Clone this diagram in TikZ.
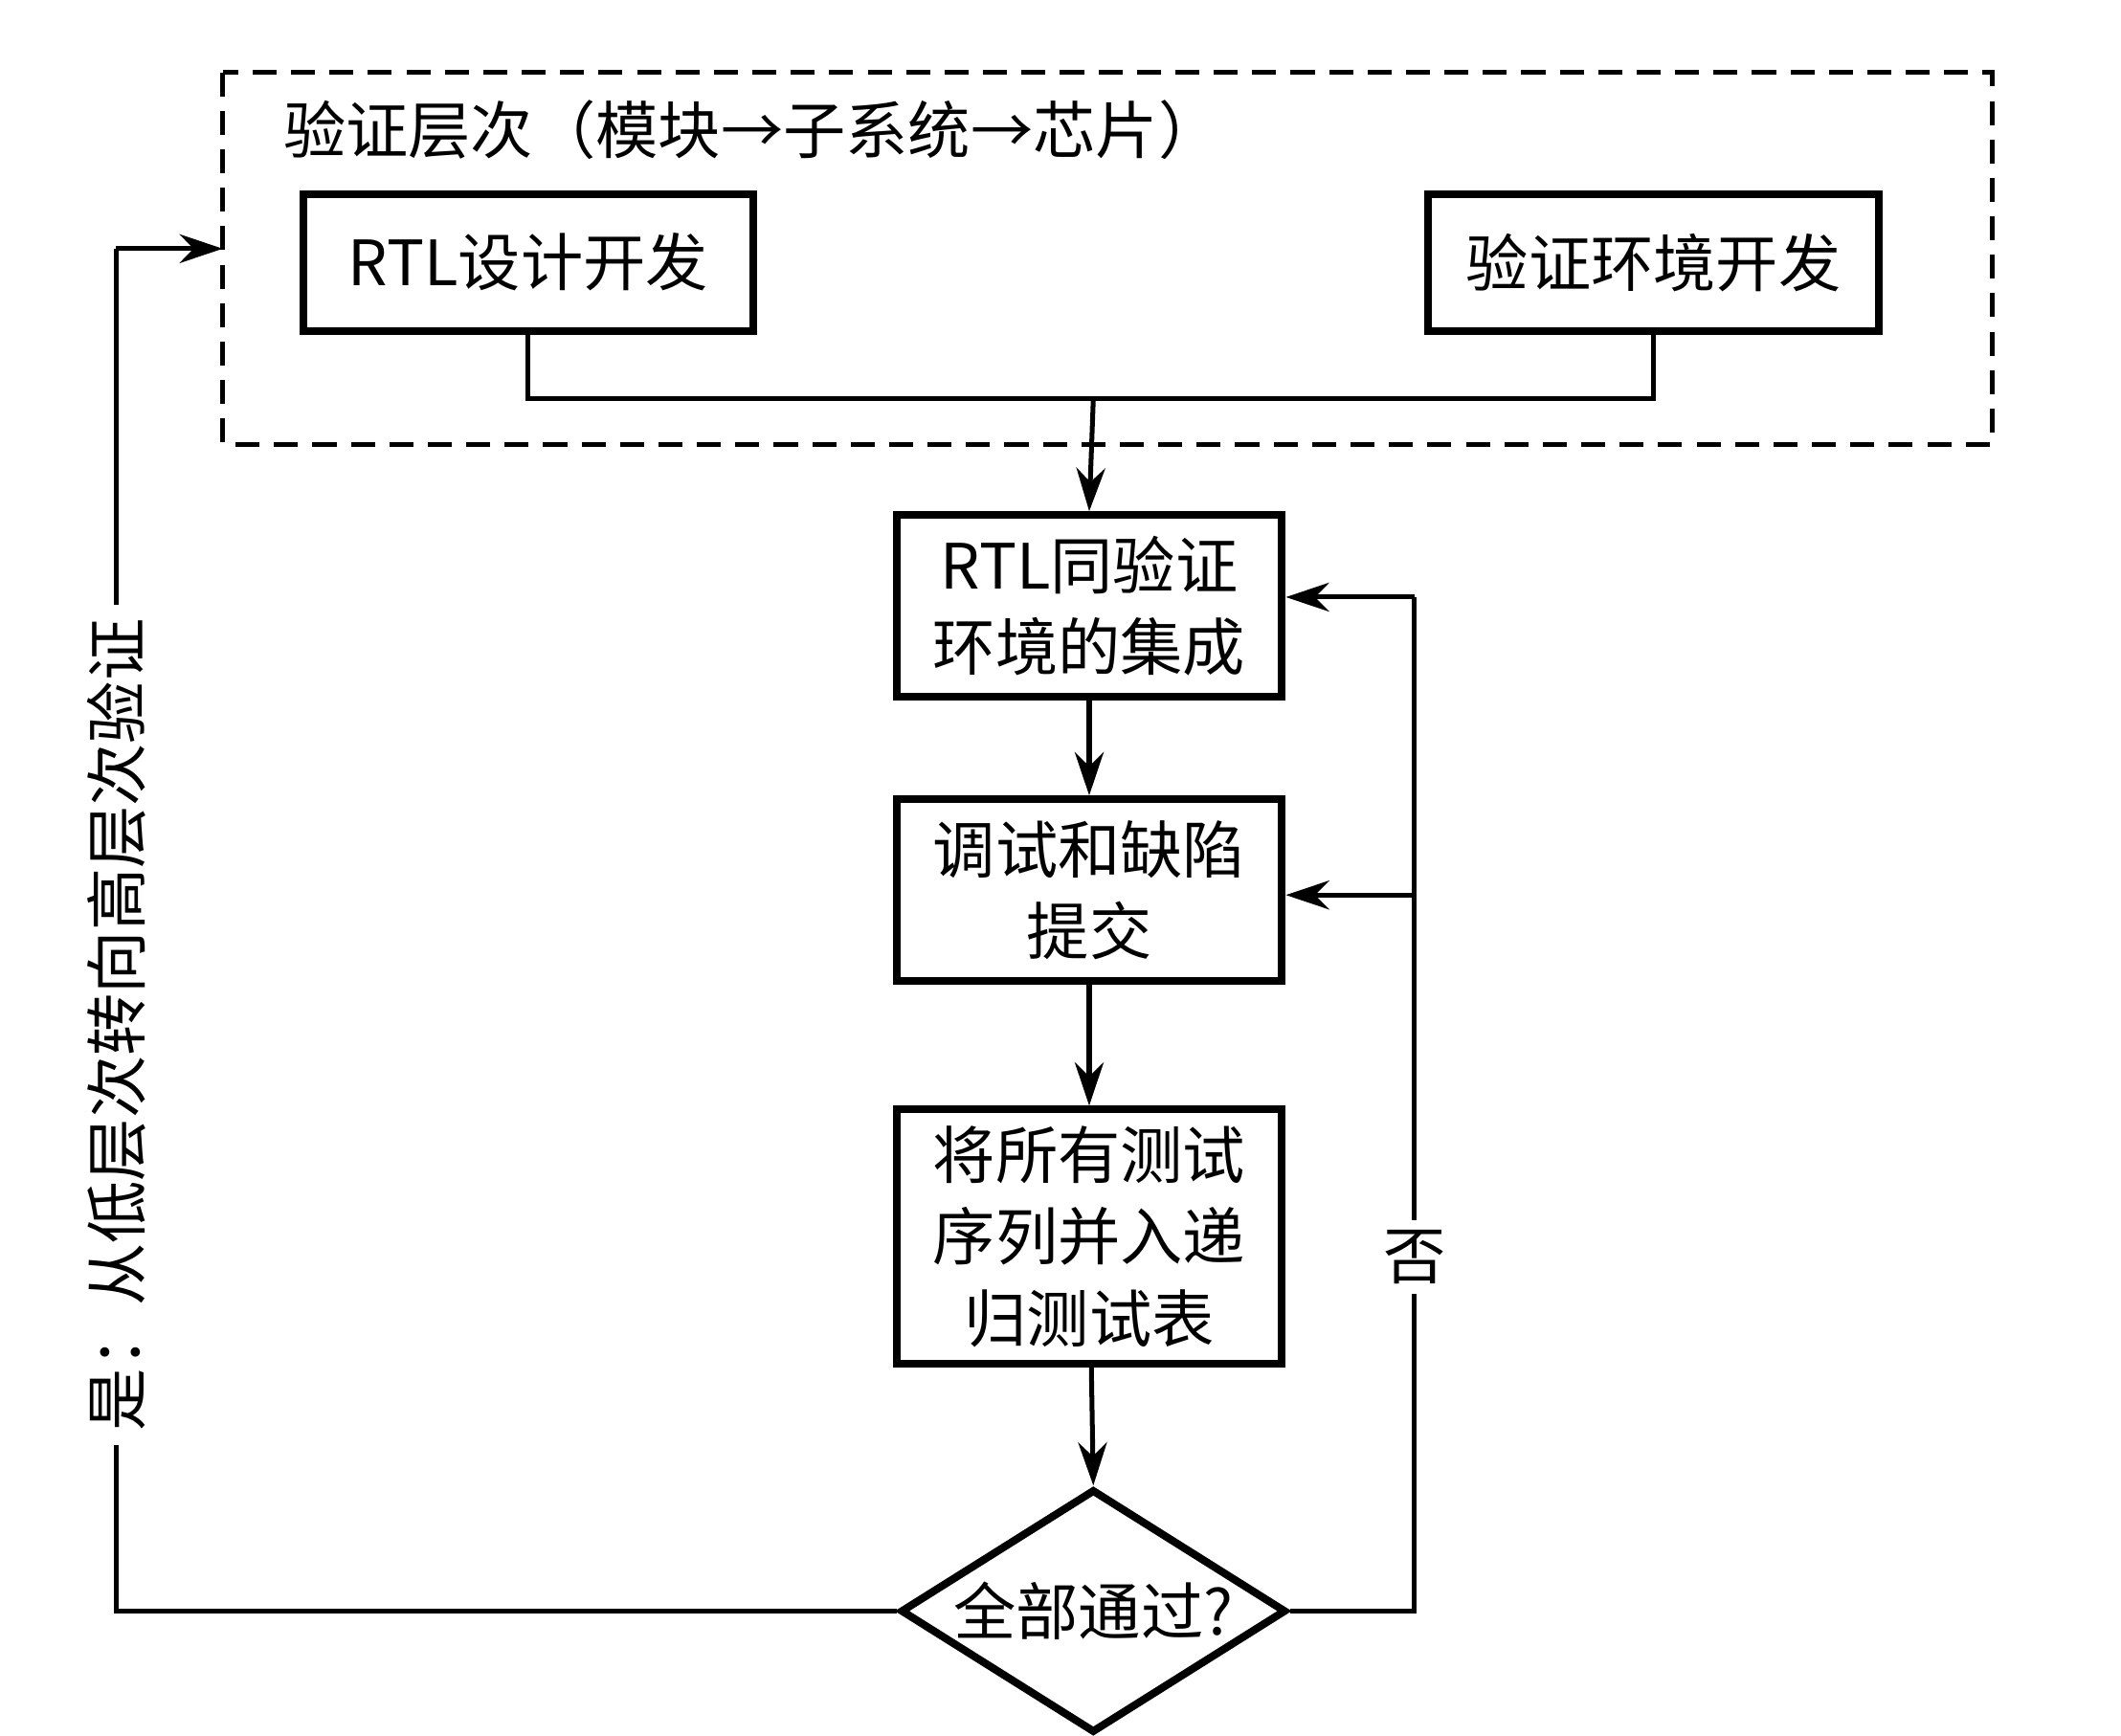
\documentclass[tikz,border=0pt]{standalone}
\usepackage{fontspec}
\newfontfamily\cjk{Noto Sans CJK SC}
\usetikzlibrary{arrows.meta,shapes.geometric}
\begin{document}
\begin{tikzpicture}[x=0.01cm,y=-0.01cm,
  every node/.style={font=\cjk\fontsize{13}{17}\selectfont},
  box/.style={draw,line width=1.6pt,align=center,inner sep=0pt},
  ln/.style={line width=1pt},
  arr/.style={ln,-{Stealth[length=9pt,width=6pt]}}]
\useasboundingbox (0,0) rectangle (1552,1270);
\draw[ln,dash pattern=on 5pt off 3pt] (163,53) rectangle (1458,325);
\node[anchor=west] (title) at (195,95) {验证层次（模块→子系统→芯片）};
\node[box,text width=3.29cm,minimum height=1cm] (rtl) at (386.5,192) {RTL设计开发};
\node[box,text width=3.3cm,minimum height=1cm] (env) at (1210,192) {验证环境开发};
\node[box,text width=2.82cm,minimum height=1.33cm] (int) at (797,443.5) {RTL同验证\\环境的集成};
\node[box,text width=2.82cm,minimum height=1.33cm] (dbg) at (797,651.5) {调试和缺陷\\提交};
\node[box,text width=2.82cm,minimum height=1.86cm] (reg) at (797,905) {将所有测试\\序列并入递\\归测试表};
\node[draw,diamond,line width=1.6pt,aspect=1.58,minimum width=2.82cm,minimum height=1.78cm,inner sep=0pt] (dec) at (800,1179) {全部通过?};
\coordinate (j) at (800,292);
\draw[ln] (rtl.south) -- (rtl.south|-j) -- (env.south|-j) -- (env.south);
\draw[arr] (j) -- (int.north);
\draw[arr] (int) -- (dbg);
\draw[arr] (dbg) -- (reg);
\draw[arr] (reg) -- (dec.north);
\coordinate (r1) at (1035,1179);
\coordinate (r2) at (1035,437);
\coordinate (r3) at (1035,655);
\draw[ln] (dec.east) -- (r1) -- (r2);
\draw[arr] (r2) -- (int.east|-r2);
\draw[arr] (r3) -- (dbg.east|-r3);
\node[fill=white,inner sep=2pt] (no) at (1035,920) {否};
\coordinate (l1) at (85,1179);
\coordinate (l2) at (85,182);
\draw[ln] (dec.west) -- (l1) -- (l2);
\draw[arr] (l2) -- (163,182);
\node[fill=white,rotate=90,inner sep=3pt] (yes) at (85,750) {是：从低层次转向高层次验证};
\end{tikzpicture}
\end{document}
